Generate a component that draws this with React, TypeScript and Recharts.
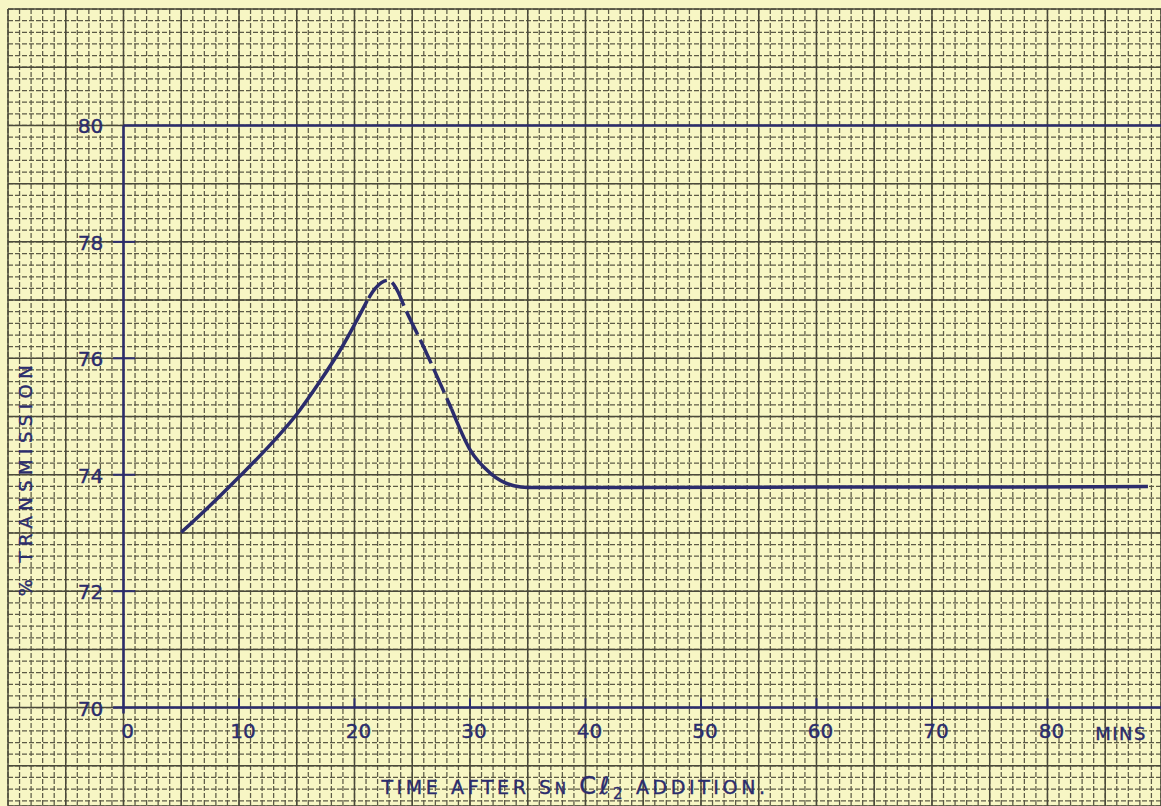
import React from "react";
import {
  ComposedChart,
  Line,
  Scatter,
  XAxis,
  YAxis,
  CartesianGrid,
  ReferenceLine,
} from "recharts";

// curve: minutes vs % transmission
const riseTime = [5, 7.5, 10, 12.5, 15, 17, 19, 21.1];
const riseTrans = [73.01, 73.47, 73.96, 74.47, 75.04, 75.6, 76.22, 76.99];
const peakTime = [21.1, 21.8, 22.9, 23.8, 24.2, 26.0, 28.4];
const peakTrans = [76.99, 77.2, 77.34, 77.13, 76.94, 76.19, 75.13];
const fallTime = [28.4, 30.0, 31.8, 33.8, 35.0, 45, 60, 75, 88.7];
const fallTrans = [75.13, 74.43, 74.02, 73.81, 73.78, 73.78, 73.79, 73.79, 73.8];

const xTicks = [0, 10, 20, 30, 40, 50, 60, 70, 80];
const yTicks = [70, 72, 74, 76, 78, 80];

// graph paper rulings
const minorX = Array.from({ length: 100 }, (_, i) => i - 10);
const majorX = Array.from({ length: 20 }, (_, i) => i * 5 - 10);
const minorY = Array.from({ length: 69 }, (_, i) => +(68.4 + i * 0.2).toFixed(1));
const majorY = Array.from({ length: 14 }, (_, i) => 69 + i);

const X_DOMAIN = [-10, 89.83];
const Y_DOMAIN = [68.31, 82];

const INK = "#2b2c6c";
const PAPER = "#f7f6c4";
const FONT = "'DejaVu Sans', sans-serif";

const toPts = (ts: number[], vs: number[]) => ts.map((t, i) => ({ t, v: vs[i] }));

const riseData = toPts(riseTime, riseTrans);
const peakData = toPts(peakTime, peakTrans);
const fallData = toPts(fallTime, fallTrans);
const xLabelData = xTicks.map((t) => ({ t, v: 70 }));
const yLabelData = yTicks.map((v) => ({ t: 0, v }));

const inkText = { fontFamily: FONT, fill: INK, stroke: INK, strokeWidth: 0.4 };

const XLabel = (p: any) => (
  <text x={p.cx + 4} y={p.cy + 23} textAnchor="middle" dominantBaseline="central" fontSize={20} {...inkText}>
    {p.payload.t}
  </text>
);

const YLabel = (p: any) => (
  <text x={p.cx - 33} y={p.cy + 1} textAnchor="middle" dominantBaseline="central" fontSize={20} {...inkText}>
    {p.payload.v}
  </text>
);

export default function App() {
  return (
    <div style={{ position: "fixed", left: 0, top: 0, width: 1161, height: 806, background: PAPER }}>
      <ComposedChart width={1161} height={806} margin={{ top: 9, left: 8, right: 0, bottom: 0 }}>
        <XAxis xAxisId={0} type="number" dataKey="t" domain={X_DOMAIN} ticks={minorX} interval={0} allowDataOverflow hide />
        <XAxis xAxisId="major" type="number" dataKey="t" domain={X_DOMAIN} ticks={majorX} interval={0} allowDataOverflow hide />
        <YAxis yAxisId={0} type="number" dataKey="v" domain={Y_DOMAIN} ticks={minorY} interval={0} allowDataOverflow hide />
        <YAxis yAxisId="major" type="number" dataKey="v" domain={Y_DOMAIN} ticks={majorY} interval={0} allowDataOverflow hide />

        <CartesianGrid xAxisId={0} yAxisId={0} stroke="#5c5a46" strokeWidth={1.25} strokeDasharray="5 2" />
        <CartesianGrid xAxisId="major" yAxisId="major" stroke="#4a493a" strokeWidth={1.5} />

        {/* axes */}
        <ReferenceLine segment={[{ x: 0, y: 69.9 }, { x: 0, y: 80 }]} stroke={INK} strokeWidth={2.5} />
        <ReferenceLine segment={[{ x: -0.9, y: 70 }, { x: 89.83, y: 70 }]} stroke={INK} strokeWidth={2.5} />
        <ReferenceLine segment={[{ x: 0, y: 80 }, { x: 89.83, y: 80 }]} stroke={INK} strokeWidth={2.5} />
        {yTicks.slice(1, -1).map((v) => (
          <ReferenceLine key={`yt${v}`} segment={[{ x: -0.9, y: v }, { x: 1.0, y: v }]} stroke={INK} strokeWidth={2} />
        ))}
        {xTicks.slice(1).map((t) => (
          <ReferenceLine key={`xt${t}`} segment={[{ x: t, y: 70 }, { x: t, y: 70.16 }]} stroke={INK} strokeWidth={2} />
        ))}

        <Line data={riseData} dataKey="v" type="monotone" stroke={INK} strokeWidth={3.5} dot={false} isAnimationActive={false} />
        <Line data={peakData} dataKey="v" type="monotone" stroke={INK} strokeWidth={3.5} strokeDasharray="0 3 26 3" dot={false} isAnimationActive={false} />
        <Line data={fallData} dataKey="v" type="monotone" stroke={INK} strokeWidth={3.5} dot={false} isAnimationActive={false} />

        <Scatter data={xLabelData} dataKey="v" shape={XLabel} isAnimationActive={false} />
        <Scatter data={yLabelData} dataKey="v" shape={YLabel} isAnimationActive={false} />
      </ComposedChart>

      <svg width={1161} height={806} style={{ position: "absolute", left: 0, top: 0, pointerEvents: "none" }}>
        <text x={1121} y={733} textAnchor="middle" dominantBaseline="central" fontSize={18} letterSpacing={1.5} {...inkText}>
          MINS
        </text>
        <text
          x={25}
          y={478}
          transform="rotate(-90 25 478)"
          textAnchor="middle"
          dominantBaseline="central"
          fontSize={18}
          letterSpacing={5.5}
          {...inkText}
        >
          % TRANSMISSION
        </text>
        <text x={575} y={794} textAnchor="middle" fontSize={19} letterSpacing={3.6} {...inkText}>
          TIME AFTER S<tspan fontSize={15}>N</tspan> <tspan fontSize={24}>Cℓ</tspan>
          <tspan fontSize={15} dy={5}>2</tspan>
          <tspan dy={-5}> ADDITION.</tspan>
        </text>
      </svg>
    </div>
  );
}
